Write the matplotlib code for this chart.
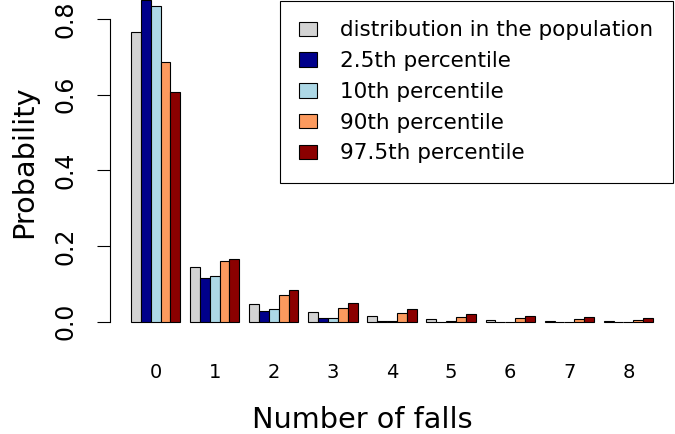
import matplotlib
matplotlib.use("Agg")
import matplotlib.pyplot as plt
import numpy as np

# ===== DATA =====
falls = ["0", "1", "2", "3", "4", "5", "6", "7", "8"]
series_names = ["distribution in the population", "2.5th percentile",
                "10th percentile", "90th percentile", "97.5th percentile"]
population = [0.765, 0.144, 0.046, 0.026, 0.014, 0.007, 0.004, 0.002, 0.001]
pct_2_5 = [0.850, 0.115, 0.028, 0.009, 0.001, 0.000, 0.000, 0.000, 0.000]
pct_10 = [0.835, 0.120, 0.033, 0.010, 0.002, 0.001, 0.000, 0.000, 0.000]
pct_90 = [0.687, 0.160, 0.071, 0.036, 0.022, 0.012, 0.009, 0.006, 0.005]
pct_97_5 = [0.608, 0.165, 0.084, 0.049, 0.034, 0.020, 0.016, 0.012, 0.009]
yticks = [0.0, 0.2, 0.4, 0.6, 0.8]

colors = ["#D3D3D3", "#00008B", "#ADD8E6", "#FC9A5E", "#8B0000"]

# ===== FIGURE =====
W, H = 675, 434
fig = plt.figure(figsize=(W / 100, H / 100), dpi=100)

# axes placed in pixel terms (R barplot look)
ax_left, ax_bottom = 110, 321.7
ax = fig.add_axes([ax_left / W, (H - ax_bottom) / H, (W - ax_left) / W, ax_bottom / H])

unit = 9.85  # px per bar
group_left = 131
ax.set_xlim((ax_left - group_left) / unit, (W - group_left) / unit)
ax.set_ylim(0, ax_bottom / 378.4)

groups = np.arange(len(falls))
all_series = [population, pct_2_5, pct_10, pct_90, pct_97_5]
for j, (vals, col, name) in enumerate(zip(all_series, colors, series_names)):
    ax.bar(groups * 6 + j + 0.5, vals, width=1.0, color=col,
           edgecolor="black", linewidth=0.8, label=name, clip_on=False)

for s in ["top", "right", "bottom"]:
    ax.spines[s].set_visible(False)
ax.spines["left"].set_bounds(0, 0.8)
ax.spines["left"].set_linewidth(0.8)

ax.set_yticks(yticks)
ax.set_yticklabels([f"{v:.1f}" for v in yticks], rotation=90, va="center")
ax.tick_params(axis="y", length=9.5, width=0.8, pad=14, labelsize=17)

ax.set_xticks(groups * 6 + 2.5)
ax.set_xticklabels(falls)
ax.tick_params(axis="x", length=0, pad=30, labelsize=14)

fig.text(362 / W, (H - 427.5) / H, "Number of falls", fontsize=20.7,
         ha="center", va="baseline")
fig.text(32 / W, (H - 162) / H, "Probability", fontsize=20.7, rotation=90,
         rotation_mode="anchor", ha="center", va="baseline")

leg = ax.legend(loc="upper right", bbox_to_anchor=(673 / W, 1 - 1 / H),
                bbox_transform=fig.transFigure, borderaxespad=0,
                fontsize=15.5, fancybox=False, framealpha=1,
                edgecolor="black", borderpad=0.9, labelspacing=0.5,
                handlelength=0.84, handleheight=0.65, handletextpad=1.08)
leg.get_frame().set_linewidth(0.8)

fig.savefig("out.png", dpi=100)
